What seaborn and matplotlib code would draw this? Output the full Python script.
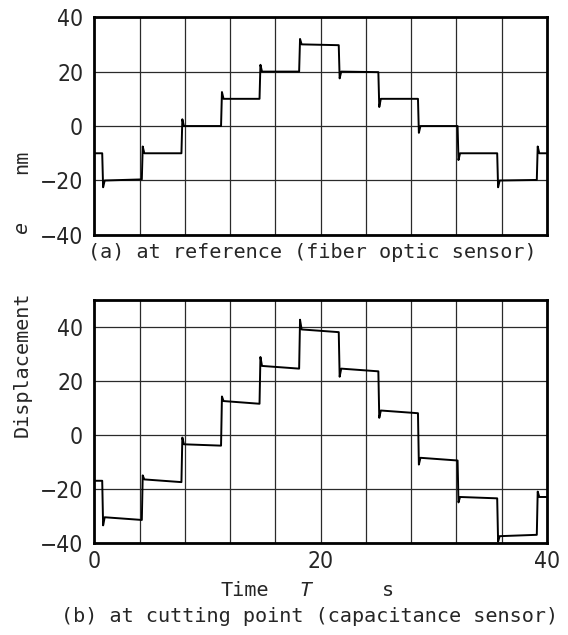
import numpy as np
import pandas as pd
import matplotlib
matplotlib.use("Agg")
import matplotlib.pyplot as plt
import seaborn as sns

sns.set_theme(style="white")
plt.rcParams["font.family"] = ["DejaVu Sans"]

# Switching instants of the staircase command (s)
step_times = [0.7, 4.2, 7.7, 11.2, 14.6, 18.1, 21.6, 25.1, 28.6, 32.1, 35.6, 39.1]

# (a) fiber optic sensor at the reference: plateau start/end levels and peak right after each switch (nm)
ref_start = [-10, -20, -10, 0, 10, 20, 30, 20, 10, 0, -10, -20, -10]
ref_end = [-10, -19.6, -10, 0, 10, 20, 29.7, 19.8, 10, 0, -10, -19.8, -10]
ref_peak = [-22.5, -7.5, 2.5, 12.5, 22.5, 32.0, 17.5, 7.0, -2.5, -12.5, -22.5, -7.5]

# (b) capacitance sensor at the cutting point (nm)
cut_start = [-17, -30.5, -16.5, -3.5, 12.5, 25.5, 39.0, 24.5, 9.0, -8.5, -23.0, -37.5, -23.0]
cut_end = [-17, -31.5, -17.5, -4.0, 11.5, 24.5, 38.0, 23.5, 8.0, -9.5, -23.5, -37.0, -23.0]
cut_peak = [-33.5, -15.0, -1.0, 14.2, 28.8, 42.6, 21.5, 6.3, -11.0, -25.0, -39.5, -21.0]

y_tick_vals = [-40, -20, 0, 20, 40]
y_tick_text = ["\u221240", "\u221220", "0", "20", "40"]
x_tick_vals = [0, 20, 40]
x_tick_text = ["0", "20", "40"]

t_end = 40.0


def staircase(starts, ends, peaks):
    t, v = [0.0], [starts[0]]
    for k, ts in enumerate(step_times):
        t += [ts, ts + 0.08, ts + 0.22]
        v += [ends[k], peaks[k], starts[k + 1]]
    t.append(t_end)
    v.append(ends[-1])
    return pd.DataFrame({"time": t, "disp": v})


fig = plt.figure(figsize=(5.68, 6.35), dpi=100)
ax_a = fig.add_axes([0.166, 0.630, 0.797, 0.343])
ax_b = fig.add_axes([0.166, 0.145, 0.797, 0.383])

panels = [
    (ax_a, staircase(ref_start, ref_end, ref_peak), (-40, 40)),
    (ax_b, staircase(cut_start, cut_end, cut_peak), (-40, 50)),
]

tick_font = dict(fontsize=16.5, fontstretch="condensed")

for ax, df, ylim in panels:
    ax.set_xlim(0, 40)
    ax.set_ylim(*ylim)
    for xv in np.arange(4, 40, 4):
        ax.axvline(xv, color="#2a2a2a", lw=0.9, zorder=1)
    for yv in y_tick_vals:
        ax.axhline(yv, color="#2a2a2a", lw=0.9, zorder=1)
    sns.lineplot(data=df, x="time", y="disp", ax=ax, color="black",
                 lw=1.4, estimator=None, sort=False, zorder=3)
    ax.set_yticks(y_tick_vals)
    ax.set_yticklabels(y_tick_text, **tick_font)
    ax.tick_params(axis="y", length=0, pad=8)
    ax.tick_params(axis="x", length=0, pad=5)
    ax.set_xlabel("")
    ax.set_ylabel("")
    for s in ax.spines.values():
        s.set_visible(True)
        s.set_color("black")
        s.set_linewidth(2.0)

ax_a.set_xticks([])
ax_b.set_xticks(x_tick_vals)
ax_b.set_xticklabels(x_tick_text, **tick_font)

mono = "DejaVu Sans Mono"
fs = 14.5
fig.text(0.550, 1 - 253 / 635, "(a) at reference (fiber optic sensor)", ha="center", va="center",
         family=mono, fontsize=fs)
fig.text(0.545, 1 - 616 / 635, "(b) at cutting point (capacitance sensor)", ha="center", va="center",
         family=mono, fontsize=fs)

# x-axis title
fig.text(245 / 568, 1 - 590 / 635, "Time", ha="center", va="center", family=mono, fontsize=fs)
fig.text(305 / 568, 1 - 590 / 635, "T", ha="center", va="center", family=mono, fontsize=fs,
         style="italic")
fig.text(388 / 568, 1 - 590 / 635, "s", ha="center", va="center", family=mono, fontsize=fs)

# shared y-axis title
fig.text(22 / 568, 1 - 364 / 635, "Displacement", ha="center", va="center", rotation=90,
         family=mono, fontsize=fs)
fig.text(22 / 568, 1 - 228 / 635, "e", ha="center", va="center", rotation=90,
         family=mono, fontsize=fs, style="italic")
fig.text(22 / 568, 1 - 162 / 635, "nm", ha="center", va="center", rotation=90,
         family=mono, fontsize=fs)

fig.savefig("out.png", dpi=100)
